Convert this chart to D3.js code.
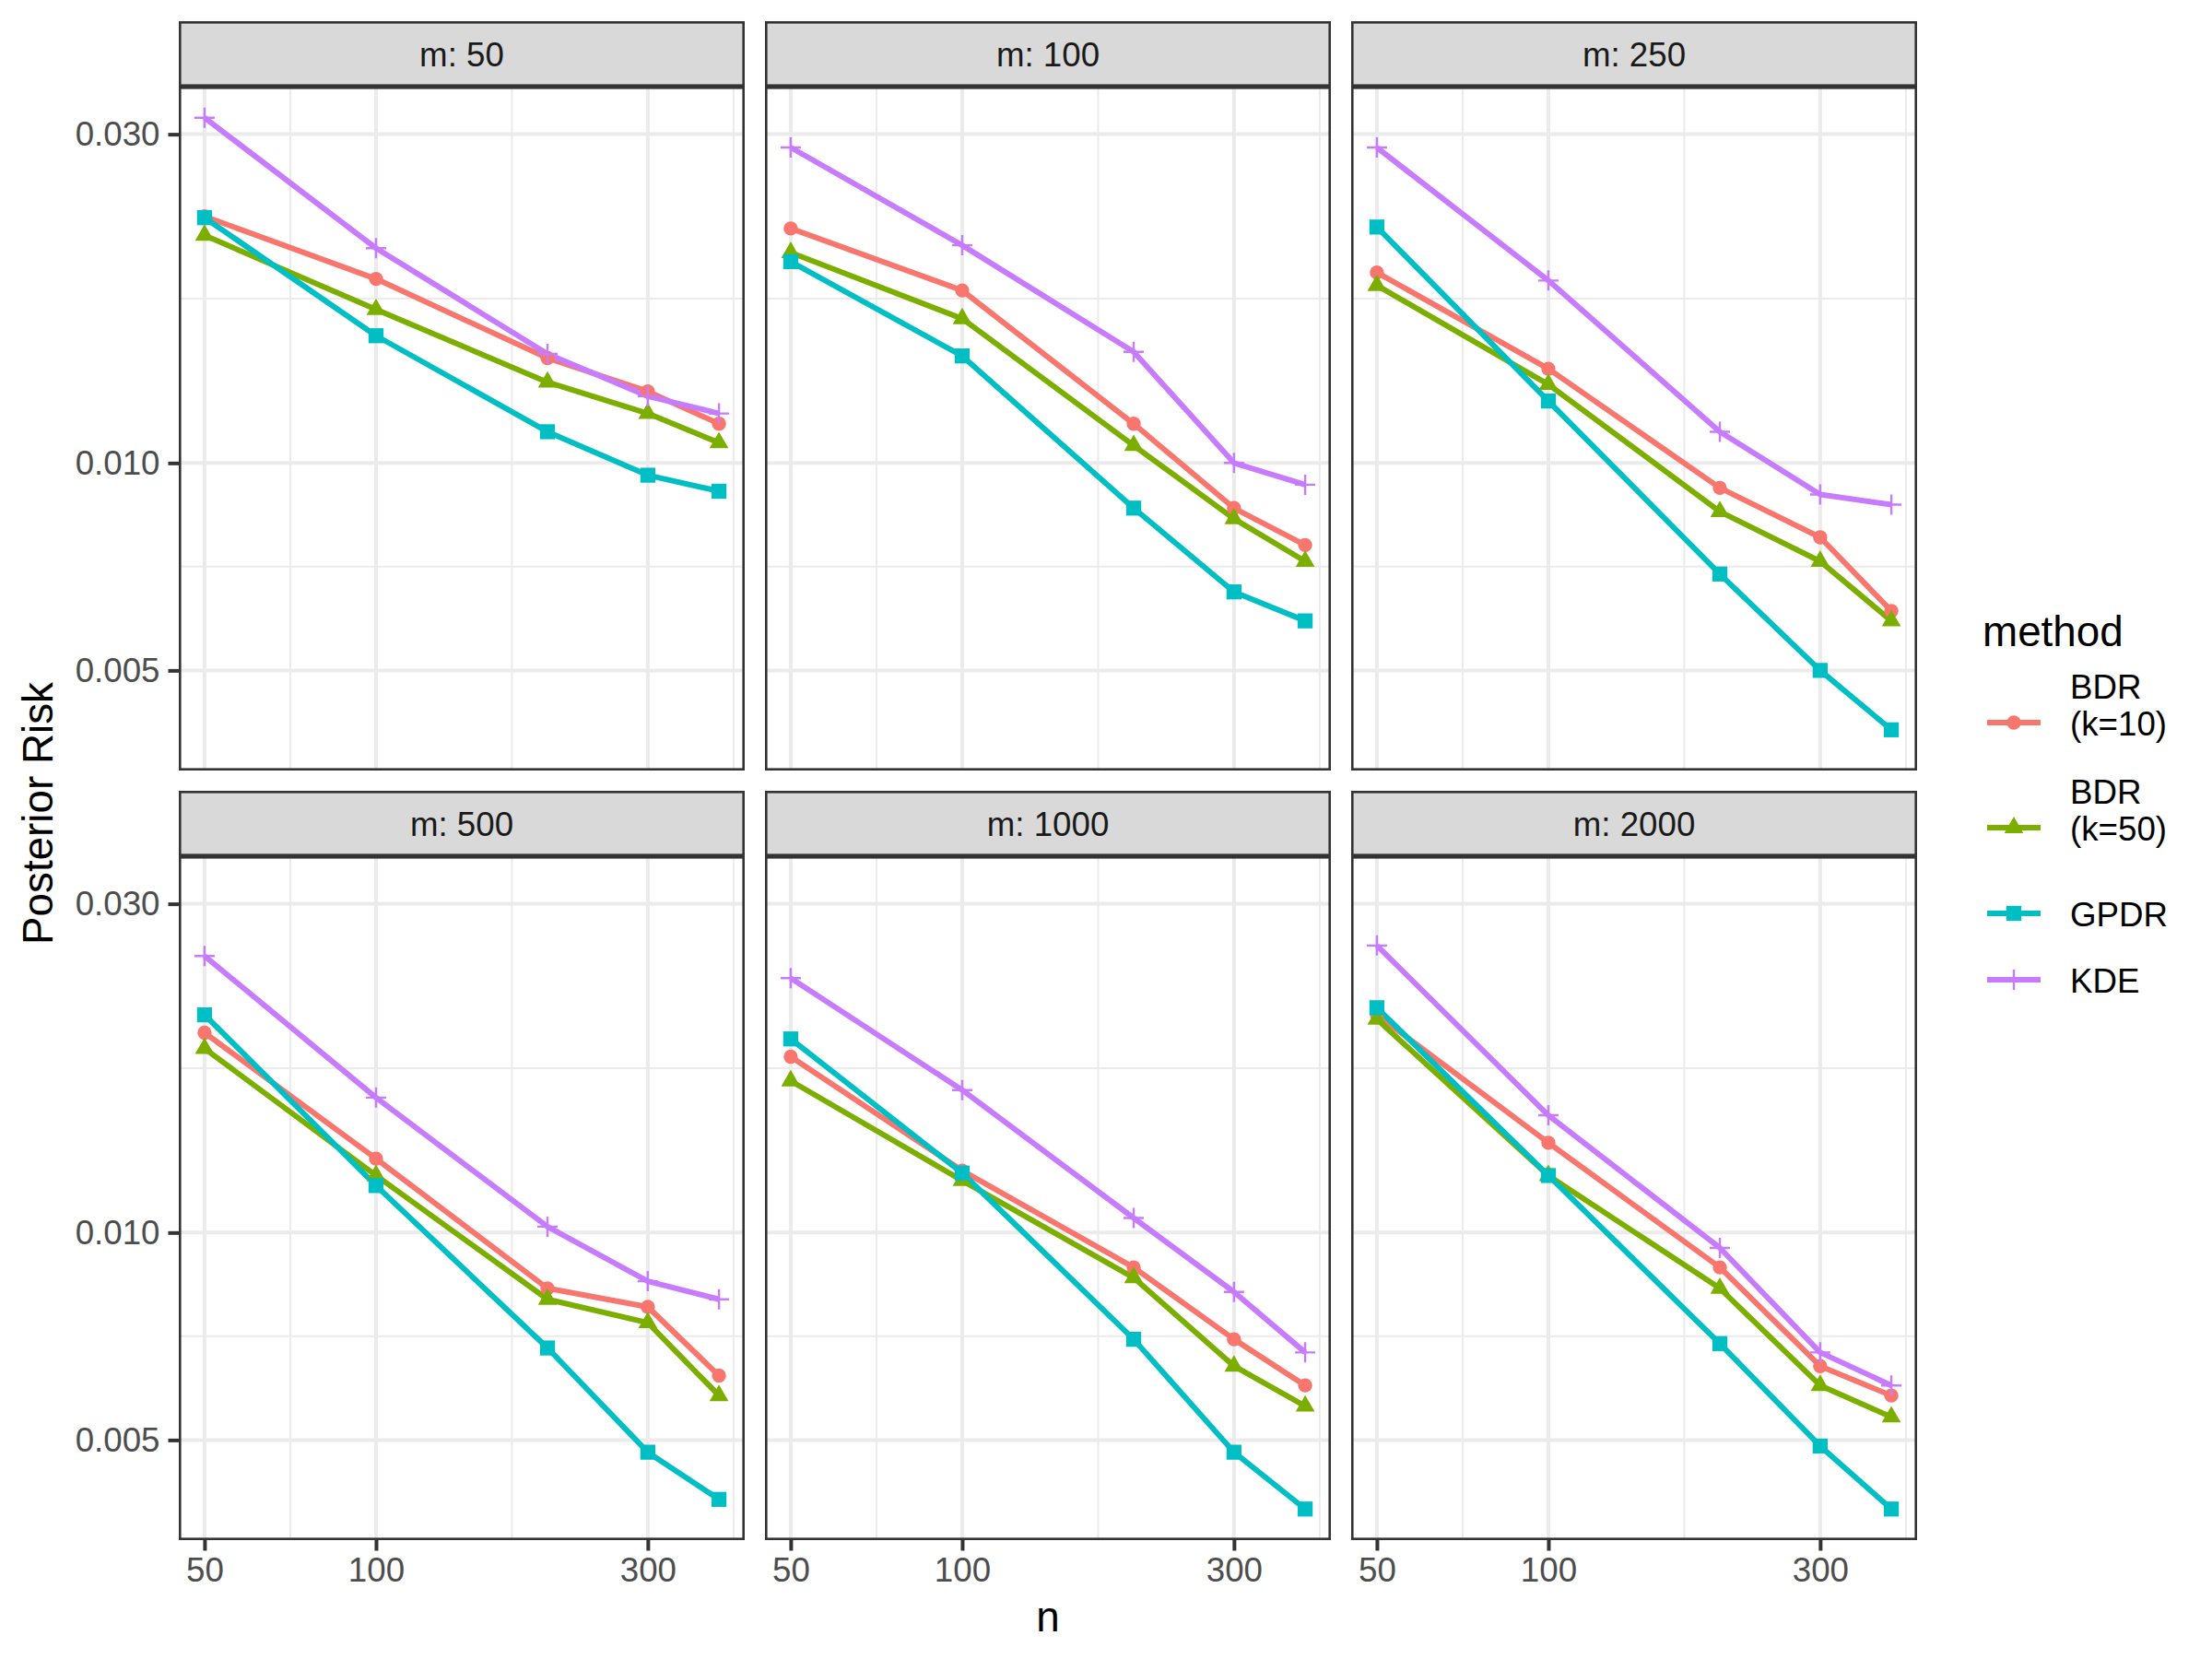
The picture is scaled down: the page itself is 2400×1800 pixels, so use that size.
<!DOCTYPE html>
<html>
<head>
<meta charset="utf-8">
<script src="https://cdn.jsdelivr.net/npm/d3@7"></script>
<style>
  html, body { margin: 0; padding: 0; background: #fff; }
  svg { display: block; font-family: 'Liberation Sans', Arial, sans-serif; }
</style>
</head>
<body>
<svg id="chart"></svg>
<script>
const nValues = [50, 100, 200, 300, 400];
const mValues = [50, 100, 250, 500, 1000, 2000];
const methods = ['BDR\n(k=10)', 'BDR\n(k=50)', 'GPDR', 'KDE'];

// posterior risk, one row per m (same order as mValues), one column per n
const riskBDR10 = [
  [0.0228, 0.0185, 0.0142, 0.0127, 0.0114],
  [0.0219, 0.0178, 0.0114, 0.0086, 0.0076],
  [0.0189, 0.0137, 0.0092, 0.0078, 0.0061],
  [0.0195, 0.0128, 0.0083, 0.0078, 0.0062],
  [0.0180, 0.0123, 0.0089, 0.0070, 0.0060],
  [0.0207, 0.0135, 0.0089, 0.0064, 0.0058]
];
const riskBDR50 = [
  [0.0214, 0.0167, 0.0131, 0.0118, 0.0107],
  [0.0202, 0.0162, 0.0106, 0.0083, 0.0072],
  [0.0181, 0.0130, 0.0085, 0.0072, 0.0059],
  [0.0185, 0.0121, 0.0080, 0.0074, 0.0058],
  [0.0166, 0.0119, 0.0086, 0.0064, 0.0056],
  [0.0204, 0.0121, 0.0083, 0.0060, 0.0054]
];
const riskGPDR = [
  [0.0227, 0.0153, 0.0111, 0.0096, 0.0091],
  [0.0196, 0.0143, 0.0086, 0.0065, 0.0059],
  [0.0220, 0.0123, 0.0069, 0.0050, 0.0041],
  [0.0207, 0.0117, 0.0068, 0.0048, 0.0041],
  [0.0191, 0.0122, 0.0070, 0.0048, 0.00397],
  [0.0212, 0.0121, 0.0069, 0.0049, 0.00397]
];
const riskKDE = [
  [0.0317, 0.0205, 0.0144, 0.0125, 0.0118],
  [0.0287, 0.0207, 0.0145, 0.0100, 0.0093],
  [0.0287, 0.0184, 0.0111, 0.0090, 0.0087],
  [0.0252, 0.0157, 0.0102, 0.0085, 0.0080],
  [0.0234, 0.0161, 0.0105, 0.0082, 0.0067],
  [0.0261, 0.0148, 0.0095, 0.0067, 0.0060]
];

const xTicks = [50, 100, 300];
const yTicks = [0.005, 0.010, 0.030];

const WIDTH   = 2400;
const HEIGHT  = 1800;
const PANEL_W = 614;
const PANEL_H = 742;
const STRIP_H = 71;
const GAP     = 22;
const LEFT    = 194;
const TOP     = 23;
const COLS    = 3;

const COLORS = ['#F8766D', '#7CAE00', '#00BFC4', '#C77CFF'];
const SHAPES = ['circle', 'triangle', 'square', 'plus'];
const LINE_W = 6;
const GRID_W = 4;
const AXIS_FONT  = 36.7;
const TITLE_FONT = 45.8;

const series = [riskBDR10, riskBDR50, riskGPDR, riskKDE];

const svg = d3.select('#chart')
  .attr('width', WIDTH)
  .attr('height', HEIGHT)
  .attr('viewBox', `0 0 ${WIDTH} ${HEIGHT}`);

svg.append('rect').attr('width', WIDTH).attr('height', HEIGHT).attr('fill', '#fff');

// ggplot style 5% expansion on the log scale
function expandLog(extent, mult = 0.05) {
  const lo = Math.log10(extent[0]), hi = Math.log10(extent[1]);
  const pad = (hi - lo) * mult;
  return [10 ** (lo - pad), 10 ** (hi + pad)];
}

// minor breaks: midpoints (in log space) between major breaks, extended by one step
function minorBreaks(scale, breaks) {
  const logs = breaks.map(Math.log10);
  const step = logs[1] - logs[0];
  const ext = [logs[0] - step, ...logs, logs[logs.length - 1] + step];
  const [d0, d1] = scale.domain();
  return d3.pairs(ext)
    .map(([a, b]) => 10 ** ((a + b) / 2))
    .filter(v => v > d0 && v < d1);
}

const x = d3.scaleLog()
  .domain(expandLog(d3.extent(nValues)))
  .range([0, PANEL_W]);

const y = d3.scaleLog()
  .domain(expandLog(d3.extent(series.flat(2))))
  .range([PANEL_H, 0]);

const color = d3.scaleOrdinal(methods, COLORS);

const line = d3.line()
  .x(d => x(d.n))
  .y(d => y(d.risk));

function drawMarker(sel, shape, fill) {
  if (shape === 'plus') {
    sel.append('path')
      .attr('d', 'M-11,0H11M0,-11V11')
      .attr('fill', 'none')
      .attr('stroke', fill)
      .attr('stroke-width', 2.4);
    return;
  }
  const type = { circle: d3.symbolCircle, triangle: d3.symbolTriangle, square: d3.symbolSquare }[shape];
  const size = { circle: 185, triangle: 185, square: 265 }[shape];
  sel.append('path')
    .attr('d', d3.symbol(type, size)())
    .attr('fill', fill);
}

function styleAxis(g) {
  g.attr('font-family', null).attr('font-size', null);
  g.select('.domain').remove();
  g.selectAll('.tick line').attr('stroke', '#333333').attr('stroke-width', GRID_W);
  g.selectAll('.tick text').attr('fill', '#4D4D4D').attr('font-size', AXIS_FONT);
}

const yMinor = minorBreaks(y, yTicks);
const xMinor = minorBreaks(x, xTicks);
const rows = Math.ceil(mValues.length / COLS);

mValues.forEach((m, i) => {
  const col = i % COLS;
  const row = Math.floor(i / COLS);
  const px = LEFT + col * (PANEL_W + GAP);
  const sy = TOP + row * (STRIP_H + PANEL_H + GAP);
  const py = sy + STRIP_H;

  // strip
  const strip = svg.append('g').attr('transform', `translate(${px},${sy})`);
  strip.append('rect')
    .attr('x', 1.3).attr('y', 1.3)
    .attr('width', PANEL_W - 2.6).attr('height', STRIP_H - 2.6)
    .attr('fill', '#D9D9D9')
    .attr('stroke', '#333333')
    .attr('stroke-width', 2.6);
  strip.append('text')
    .attr('x', PANEL_W / 2)
    .attr('y', 49)
    .attr('text-anchor', 'middle')
    .attr('font-size', AXIS_FONT)
    .attr('fill', '#1A1A1A')
    .text(`m: ${m}`);

  // panel
  const panel = svg.append('g').attr('transform', `translate(${px},${py})`);
  panel.append('rect').attr('width', PANEL_W).attr('height', PANEL_H).attr('fill', '#fff');

  const grid = [
    { vals: xMinor, w: GRID_W / 2, vertical: true },
    { vals: yMinor, w: GRID_W / 2, vertical: false },
    { vals: xTicks, w: GRID_W, vertical: true },
    { vals: yTicks, w: GRID_W, vertical: false }
  ];
  grid.forEach(gr => {
    panel.selectAll(null)
      .data(gr.vals)
      .enter().append('line')
        .attr('x1', d => gr.vertical ? x(d) : 0)
        .attr('x2', d => gr.vertical ? x(d) : PANEL_W)
        .attr('y1', d => gr.vertical ? 0 : y(d))
        .attr('y2', d => gr.vertical ? PANEL_H : y(d))
        .attr('stroke', '#EBEBEB')
        .attr('stroke-width', gr.w);
  });

  const panelSeries = methods.map((name, k) => ({
    name,
    shape: SHAPES[k],
    points: nValues.map((n, j) => ({ n, risk: series[k][i][j] }))
  }));

  panel.selectAll('.series-line')
    .data(panelSeries)
    .enter().append('path')
      .attr('class', 'series-line')
      .attr('d', d => line(d.points))
      .attr('fill', 'none')
      .attr('stroke', d => color(d.name))
      .attr('stroke-width', LINE_W)
      .attr('stroke-linejoin', 'round');

  panelSeries.forEach(s => {
    panel.selectAll(null)
      .data(s.points)
      .enter().append('g')
        .attr('transform', d => `translate(${x(d.n)},${y(d.risk)})`)
        .each(function () { drawMarker(d3.select(this), s.shape, color(s.name)); });
  });

  panel.append('rect')
    .attr('x', 1.3).attr('y', 1.3)
    .attr('width', PANEL_W - 2.6).attr('height', PANEL_H - 2.6)
    .attr('fill', 'none')
    .attr('stroke', '#333333')
    .attr('stroke-width', 2.6);

  if (col === 0) {
    svg.append('g')
      .attr('transform', `translate(${px},${py})`)
      .call(d3.axisLeft(y).tickValues(yTicks).tickFormat(d3.format('.3f')).tickSize(11.5).tickPadding(9))
      .call(styleAxis);
  }
  if (row === rows - 1) {
    svg.append('g')
      .attr('transform', `translate(${px},${py + PANEL_H})`)
      .call(d3.axisBottom(x).tickValues(xTicks).tickFormat(d3.format('d')).tickSize(11.5).tickPadding(7))
      .call(styleAxis);
  }
});

// axis titles
const panelsRight = LEFT + COLS * PANEL_W + (COLS - 1) * GAP;
const plotBottom = TOP + rows * (STRIP_H + PANEL_H) + (rows - 1) * GAP;

svg.append('text')
  .attr('x', (LEFT + panelsRight) / 2)
  .attr('y', plotBottom + 99)
  .attr('text-anchor', 'middle')
  .attr('font-size', TITLE_FONT)
  .attr('fill', '#000')
  .text('n');

svg.append('text')
  .attr('transform', `translate(57,${(TOP + STRIP_H + plotBottom) / 2}) rotate(-90)`)
  .attr('text-anchor', 'middle')
  .attr('font-size', TITLE_FONT)
  .attr('fill', '#000')
  .text('Posterior Risk');

// legend
const legend = svg.append('g').attr('transform', `translate(${panelsRight + 71},0)`);
legend.append('text')
  .attr('x', 0)
  .attr('y', 701)
  .attr('font-size', TITLE_FONT)
  .attr('fill', '#000')
  .text('method');

let legendTop = 727;
methods.forEach((name, k) => {
  const lines = name.split('\n');
  const h = lines.length > 1 ? 114 : 72;
  const cy = legendTop + h / 2;
  const item = legend.append('g').attr('transform', `translate(0,${cy})`);
  item.append('line')
    .attr('x1', 5).attr('x2', 63)
    .attr('stroke', color(name))
    .attr('stroke-width', LINE_W);
  item.append('g')
    .attr('transform', 'translate(34,0)')
    .call(g => drawMarker(g, SHAPES[k], color(name)));
  item.append('text')
    .attr('font-size', AXIS_FONT)
    .attr('fill', '#000')
    .selectAll('tspan')
    .data(lines)
    .enter().append('tspan')
      .attr('x', 95)
      .attr('y', (d, j) => 14 - 40 * (lines.length - 1 - j))
      .text(d => d);
  legendTop += h;
});
</script>
</body>
</html>
